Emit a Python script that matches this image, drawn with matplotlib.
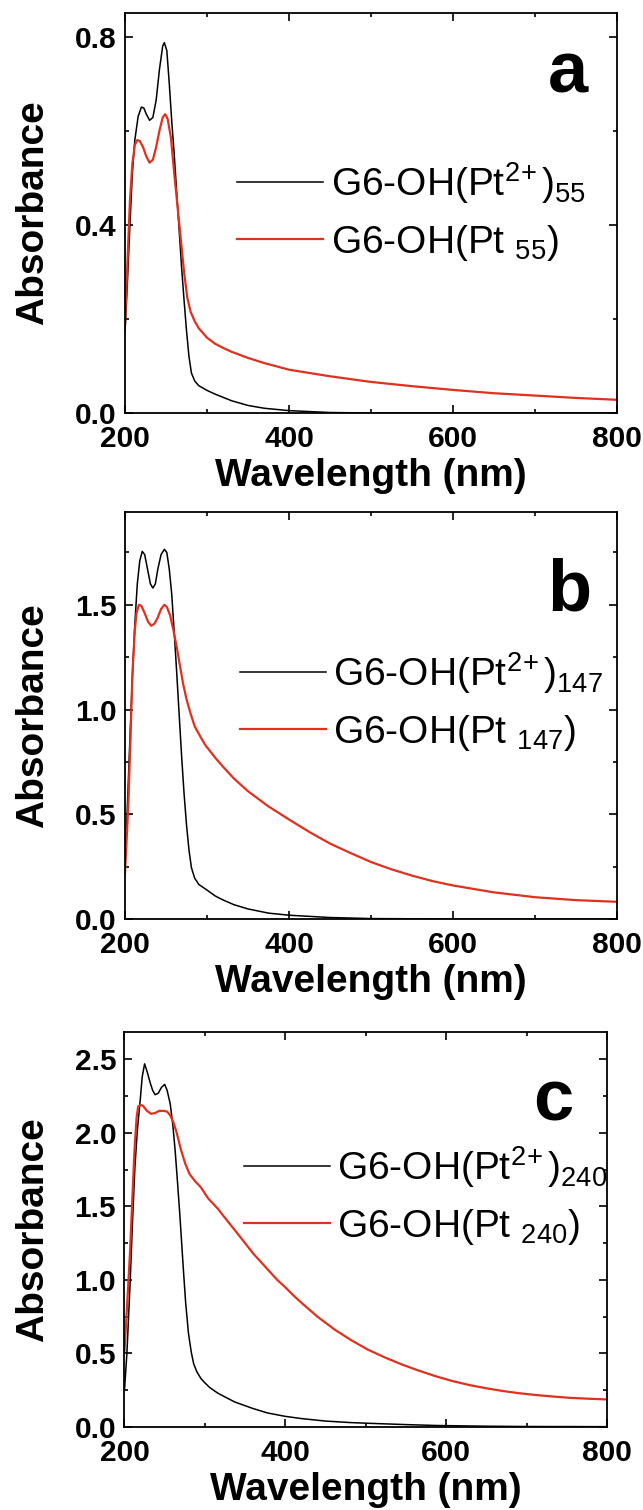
import matplotlib
matplotlib.use('Agg')
import matplotlib.pyplot as plt
from matplotlib.ticker import MultipleLocator, FormatStrFormatter

plt.rcParams['font.family'] = 'Liberation Sans'
plt.rcParams['mathtext.fontset'] = 'custom'
plt.rcParams['mathtext.rm'] = 'Liberation Sans'
plt.rcParams['mathtext.it'] = 'Liberation Sans:italic'
plt.rcParams['mathtext.bf'] = 'Liberation Sans:bold'

# ---- panel a : G6-OH(Pt2+)55 / G6-OH(Pt55) ----
wl_a_ion = [200, 203, 206, 209, 212, 216, 220, 223, 226, 230, 234, 238, 242, 246, 248, 251,
            254, 257, 260, 263, 266, 269, 272, 275, 278, 281, 285, 290, 300, 310, 320, 330,
            350, 370, 400, 450, 500, 600, 800]
abs_a_ion = [0.17, 0.28, 0.40, 0.51, 0.58, 0.63, 0.65, 0.648, 0.635, 0.622, 0.628, 0.665, 0.73, 0.78, 0.787, 0.77,
             0.70, 0.62, 0.55, 0.47, 0.39, 0.31, 0.24, 0.175, 0.12, 0.085, 0.068, 0.058, 0.048, 0.040, 0.033, 0.026,
             0.016, 0.010, 0.005, 0.001, 0.0, 0.0, 0.0]
wl_a_np = [200, 203, 206, 209, 212, 215, 218, 222, 226, 230, 234, 238, 242, 246, 249, 252,
           256, 260, 264, 268, 272, 276, 280, 285, 290, 300, 310, 320, 330, 350, 370, 400,
           450, 500, 550, 600, 650, 700, 750, 800]
abs_a_np = [0.19, 0.32, 0.45, 0.53, 0.57, 0.58, 0.578, 0.565, 0.545, 0.532, 0.538, 0.565, 0.60, 0.628, 0.635, 0.625,
            0.585, 0.51, 0.44, 0.37, 0.30, 0.245, 0.215, 0.195, 0.18, 0.16, 0.147, 0.138, 0.130, 0.117, 0.106, 0.092,
            0.078, 0.066, 0.057, 0.049, 0.042, 0.037, 0.032, 0.028]

# ---- panel b : G6-OH(Pt2+)147 / G6-OH(Pt147) ----
wl_b_ion = [200, 203, 206, 209, 212, 215, 218, 221, 224, 227, 231, 234, 237, 240, 244, 248,
            251, 254, 257, 260, 263, 266, 269, 272, 275, 278, 281, 285, 290, 300, 310, 320,
            333, 350, 375, 400, 450, 500, 600, 800]
abs_b_ion = [0.25, 0.55, 0.86, 1.15, 1.41, 1.60, 1.71, 1.755, 1.74, 1.68, 1.60, 1.58, 1.60, 1.67, 1.74, 1.765,
             1.75, 1.67, 1.55, 1.37, 1.18, 0.98, 0.78, 0.60, 0.45, 0.33, 0.245, 0.195, 0.165, 0.138, 0.11, 0.09,
             0.068, 0.048, 0.028, 0.018, 0.007, 0.002, 0.0, 0.0]
wl_b_np = [200, 202, 204, 207, 209, 212, 214, 217, 220, 224, 228, 232, 236, 240, 244, 248,
           251, 255, 259, 263, 267, 271, 275, 280, 285, 292, 298, 310, 320, 333, 350, 374,
           400, 425, 450, 475, 500, 525, 550, 575, 600, 650, 700, 750, 800]
abs_b_np = [0.22, 0.38, 0.54, 0.90, 1.17, 1.38, 1.46, 1.50, 1.495, 1.46, 1.42, 1.40, 1.41, 1.44, 1.48, 1.50,
            1.49, 1.45, 1.38, 1.30, 1.21, 1.12, 1.05, 0.98, 0.92, 0.87, 0.83, 0.77, 0.725, 0.67, 0.61, 0.54,
            0.475, 0.415, 0.36, 0.315, 0.272, 0.237, 0.207, 0.181, 0.16, 0.127, 0.104, 0.09, 0.082]

# ---- panel c : G6-OH(Pt2+)240 / G6-OH(Pt240) ----
wl_c_ion = [200, 203, 207, 210, 213, 216, 219.5, 222, 225, 228, 232, 235, 238, 242, 246, 250,
            253, 256.8, 260, 263, 266, 269, 273, 276, 279.5, 283, 286, 290, 295, 300, 306, 316,
            337, 360, 378, 400, 420, 450, 480, 503, 550, 587, 650, 700, 800]
abs_c_ion = [0.25, 0.50, 0.98, 1.40, 1.77, 2.02, 2.22, 2.38, 2.47, 2.42, 2.34, 2.29, 2.26, 2.27, 2.31, 2.33,
             2.29, 2.20, 2.06, 1.88, 1.66, 1.43, 1.09, 0.85, 0.64, 0.51, 0.43, 0.375, 0.33, 0.30, 0.268, 0.23,
             0.17, 0.125, 0.095, 0.072, 0.057, 0.040, 0.030, 0.025, 0.016, 0.010, 0.005, 0.003, 0.002]
wl_c_np = [200, 203, 207, 210, 212.4, 215, 217, 220, 223, 228, 233, 238, 243, 248.5, 253, 256.8,
           261, 265, 270, 275.6, 281, 288, 295, 304, 316, 326, 337, 350, 360, 370, 380, 390,
           400, 410, 420, 440, 462, 482, 503, 525, 545, 565, 587, 608, 629, 650, 670, 690,
           712, 735, 754, 777, 800]
abs_c_np = [0.52, 0.80, 1.20, 1.58, 1.88, 2.10, 2.18, 2.19, 2.185, 2.15, 2.13, 2.135, 2.15, 2.15, 2.145, 2.12,
            2.07, 2.00, 1.89, 1.79, 1.72, 1.67, 1.63, 1.555, 1.485, 1.415, 1.34, 1.25, 1.18, 1.12, 1.06, 1.00,
            0.95, 0.895, 0.845, 0.75, 0.66, 0.59, 0.525, 0.47, 0.425, 0.385, 0.345, 0.312, 0.285, 0.263, 0.245, 0.23,
            0.217, 0.206, 0.198, 0.192, 0.187]

sizes = ['55', '147', '240']
panel_letters = ['a', 'b', 'c']

RED = '#e0301e'

fig = plt.figure(figsize=(6.43, 15.10), dpi=100)

# axes rectangles in figure fraction
rects = [[0.1944, 0.7265, 0.7652, 0.2649],
         [0.1944, 0.3914, 0.7652, 0.2695],
         [0.1936, 0.0550, 0.7504, 0.2616]]
ylims = [0.85, 1.943, 2.687]
ymajor = [0.4, 0.5, 0.5]
legend_anchor = [(0.228, 0.632), (0.234, 0.660), (0.248, 0.716)]
letter_pos = [(0.90, 0.80), (0.904, 0.759), (0.888, 0.777)]

data = [(wl_a_ion, abs_a_ion, wl_a_np, abs_a_np),
        (wl_b_ion, abs_b_ion, wl_b_np, abs_b_np),
        (wl_c_ion, abs_c_ion, wl_c_np, abs_c_np)]

for i in range(3):
    ax = fig.add_axes(rects[i])
    wl_ion, abs_ion, wl_np, abs_np = data[i]
    n = sizes[i]
    ax.plot(wl_ion, abs_ion, color='black', lw=1.1,
            label=r'G6-OH(Pt$^{2\!+}$)$_{%s}$' % n)
    ax.plot(wl_np, abs_np, color=RED, lw=1.6,
            label=r'G6-OH(Pt $_{%s}$)' % n)

    ax.set_xlim(200, 800)
    ax.set_ylim(0, ylims[i])
    ax.xaxis.set_major_locator(MultipleLocator(200))
    ax.xaxis.set_minor_locator(MultipleLocator(100))
    ax.yaxis.set_major_locator(MultipleLocator(ymajor[i]))
    ax.yaxis.set_minor_locator(MultipleLocator(ymajor[i] / 2))
    ax.yaxis.set_major_formatter(FormatStrFormatter('%.1f'))

    ax.tick_params(which='both', direction='in', top=True, right=True, width=1.2)
    ax.tick_params(which='major', length=6)
    ax.tick_params(which='minor', length=3)
    ax.tick_params(axis='x', which='major', pad=9)
    ax.tick_params(axis='y', which='major', pad=6)
    for lab in ax.get_xticklabels() + ax.get_yticklabels():
        lab.set_fontsize(21.5)
        lab.set_fontweight('bold')
    for sp in ax.spines.values():
        sp.set_linewidth(1.3)

    ax.set_xlabel('Wavelength (nm)', fontsize=28, fontweight='bold', labelpad=3)
    ax.set_ylabel('Absorbance', fontsize=28, fontweight='bold')
    ax.yaxis.set_label_coords(-0.15 * 0.7652 / rects[i][2], 0.5)

    ax.legend(loc='upper left', bbox_to_anchor=legend_anchor[i], frameon=False,
              fontsize=28, handlelength=2.2, handletextpad=0.2, labelspacing=0.43,
              borderpad=0, borderaxespad=0)

    ax.text(letter_pos[i][0], letter_pos[i][1], panel_letters[i], transform=ax.transAxes,
            fontsize=52, fontweight='bold', ha='center', va='baseline')

plt.savefig('out.png', dpi=100)
